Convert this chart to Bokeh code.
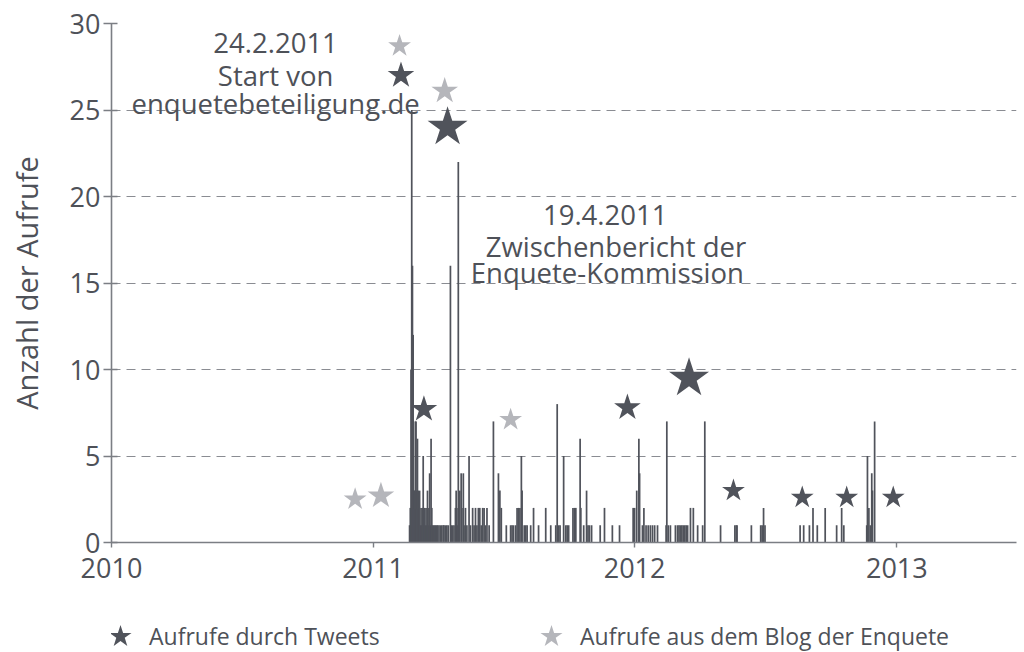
import datetime as dt
from bokeh.plotting import figure
from bokeh.layouts import column
from bokeh.models import (Range1d, FixedTicker, Label, Legend, LegendItem,
                          ColumnDataSource)
from bokeh.embed import file_html
from bokeh.resources import INLINE

# ---------------- data ----------------
bar_dates = [
    "2011-02-21", "2011-02-22", "2011-02-23", "2011-02-24", "2011-02-25", "2011-02-26",
    "2011-02-27", "2011-02-28", "2011-03-01", "2011-03-02", "2011-03-03", "2011-03-04",
    "2011-03-05", "2011-03-06", "2011-03-07", "2011-03-08", "2011-03-09", "2011-03-10",
    "2011-03-11", "2011-03-12", "2011-03-13", "2011-03-14", "2011-03-15", "2011-03-16",
    "2011-03-17", "2011-03-18", "2011-03-19", "2011-03-20", "2011-03-21", "2011-03-22",
    "2011-03-23", "2011-03-24", "2011-03-25", "2011-03-26", "2011-03-28", "2011-03-29",
    "2011-03-31", "2011-04-01", "2011-04-03", "2011-04-05", "2011-04-07", "2011-04-09",
    "2011-04-10", "2011-04-12", "2011-04-14", "2011-04-16", "2011-04-19", "2011-04-20",
    "2011-04-22", "2011-04-24", "2011-04-26", "2011-04-27", "2011-04-28", "2011-04-29",
    "2011-04-30", "2011-05-01", "2011-05-02", "2011-05-04", "2011-05-05", "2011-05-07",
    "2011-05-08", "2011-05-10", "2011-05-12", "2011-05-15", "2011-05-17", "2011-05-20",
    "2011-05-22", "2011-05-24", "2011-05-26", "2011-05-28", "2011-05-30", "2011-06-01",
    "2011-06-03", "2011-06-05", "2011-06-07", "2011-06-09", "2011-06-12", "2011-06-18",
    "2011-06-25", "2011-06-27", "2011-06-29", "2011-07-06", "2011-07-12", "2011-07-14",
    "2011-07-16", "2011-07-19", "2011-07-21", "2011-07-23", "2011-07-25", "2011-07-27",
    "2011-07-28", "2011-07-31", "2011-08-02", "2011-08-04", "2011-08-09", "2011-08-13",
    "2011-08-20", "2011-08-30", "2011-09-06", "2011-09-13", "2011-09-15", "2011-09-17",
    "2011-09-19", "2011-09-24", "2011-09-27", "2011-09-29", "2011-10-01", "2011-10-07",
    "2011-10-09", "2011-10-11", "2011-10-17", "2011-10-18", "2011-10-22", "2011-10-26",
    "2011-10-28", "2011-10-30", "2011-11-02", "2011-11-14", "2011-11-20", "2011-12-01",
    "2011-12-11", "2011-12-30", "2012-01-01", "2012-01-04", "2012-01-07", "2012-01-08",
    "2012-01-12", "2012-01-14", "2012-01-17", "2012-01-20", "2012-01-23", "2012-01-26",
    "2012-01-29", "2012-02-02", "2012-02-14", "2012-02-15", "2012-02-17", "2012-02-20",
    "2012-02-27", "2012-03-01", "2012-03-03", "2012-03-05", "2012-03-07", "2012-03-09",
    "2012-03-11", "2012-03-13", "2012-03-15", "2012-03-19", "2012-03-23", "2012-03-29",
    "2012-04-05", "2012-04-08", "2012-04-30", "2012-05-20", "2012-05-22", "2012-05-23",
    "2012-06-12", "2012-06-25", "2012-06-27", "2012-06-29", "2012-07-01", "2012-08-19",
    "2012-08-24", "2012-09-01", "2012-09-06", "2012-09-12", "2012-09-23", "2012-10-09",
    "2012-10-16", "2012-10-19", "2012-11-20", "2012-11-21", "2012-11-23", "2012-11-25",
    "2012-11-27", "2012-11-28", "2012-12-01",
]
bar_counts = [
    1, 2, 10, 25, 16, 12,
    3, 3, 7, 7, 3, 6,
    3, 2, 3, 1, 2, 1,
    2, 5, 1, 2, 1, 2,
    1, 3, 1, 2, 4, 1,
    6, 2, 1, 1, 1, 1,
    1, 1, 1, 1, 1, 1,
    1, 1, 1, 1, 16, 1,
    1, 1, 2, 3, 2, 1,
    22, 2, 3, 4, 2, 4,
    1, 2, 1, 5, 1, 2,
    1, 2, 1, 2, 2, 1,
    2, 2, 1, 2, 1, 7,
    4, 3, 2, 1, 1, 1,
    1, 1, 2, 2, 2, 5,
    3, 1, 1, 1, 1, 2,
    1, 2, 1, 1, 8, 1,
    1, 5, 1, 1, 1, 2,
    2, 2, 6, 2, 1, 3,
    1, 1, 1, 1, 2, 1,
    1, 2, 2, 3, 6, 4,
    1, 2, 1, 1, 1, 1,
    1, 1, 1, 7, 1, 1,
    1, 1, 1, 1, 1, 1,
    1, 1, 1, 2, 2, 1,
    1, 7, 1, 1, 1, 1,
    1, 1, 1, 2, 1, 1,
    1, 1, 2, 1, 2, 1,
    2, 1, 1, 5, 2, 1,
    4, 3, 7,
]

tweet_dates = ["2011-02-09", "2011-04-15", "2011-03-13", "2011-12-22", "2012-03-17",
               "2012-05-18", "2012-08-22", "2012-10-23", "2012-12-27"]
tweet_levels = [27.0, 24.0, 7.7, 7.8, 9.5, 3.0, 2.6, 2.6, 2.6]
tweet_class = ["M", "L", "M", "M", "L", "S", "S", "S", "S"]

blog_dates = ["2011-02-07", "2011-04-11", "2010-12-07", "2011-01-12", "2011-07-12"]
blog_levels = [28.7, 26.1, 2.5, 2.7, 7.1]
blog_class = ["S", "M", "S", "M", "S"]

year_ticks = ["2010-01-01", "2011-01-01", "2012-01-01", "2013-01-01"]
year_labels = ["2010", "2011", "2012", "2013"]
y_ticks = [0, 5, 10, 15, 20, 25, 30]

ann1_lines = ["24.2.2011", "Start von", "enquetebeteiligung.de"]
ann2_lines = ["19.4.2011", "Zwischenbericht der", "Enquete-Kommission"]
y_title = "Anzahl der Aufrufe"
legend_labels = ["Aufrufe durch Tweets", "Aufrufe aus dem Blog der Enquete"]

# ---------------- helpers / styles ----------------
EPOCH = dt.datetime(1970, 1, 1)


def ms(s):
    return (dt.datetime.fromisoformat(s) - EPOCH).total_seconds() * 1000.0


DAY = 86400000.0
DARK = "#50535b"
LIGHT = "#b5b6bb"
TEXT = "#4e5158"
AXIS = "#7b7e84"
GRID = "#8a8c92"
FONT = "Open Sans"
STAR_SIZE = {"S": 24, "M": 28, "L": 42}

p = figure(width=1024, height=594, output_backend="svg", toolbar_location=None,
           x_range=Range1d(ms("2010-01-01"), ms("2013-06-17")),
           y_range=Range1d(0, 30),
           min_border_left=111, min_border_right=8, min_border_top=23,
           min_border_bottom=52)
p.outline_line_color = None
p.background_fill_color = "white"
p.border_fill_color = "white"

bars = ColumnDataSource(dict(x=[ms(d) for d in bar_dates], top=bar_counts))
p.vbar(x="x", top="top", bottom=0, width=2.4 * DAY, source=bars,
       fill_color=DARK, line_color=None)

tw = ColumnDataSource(dict(x=[ms(d) for d in tweet_dates], y=tweet_levels,
                           s=[STAR_SIZE[c] for c in tweet_class]))
bl = ColumnDataSource(dict(x=[ms(d) for d in blog_dates], y=blog_levels,
                           s=[STAR_SIZE[c] for c in blog_class]))
p.scatter(x="x", y="y", size="s", marker="star", source=tw,
          fill_color=DARK, line_color=None)
p.scatter(x="x", y="y", size="s", marker="star", source=bl,
          fill_color=LIGHT, line_color=None)

# axes
p.xaxis.ticker = FixedTicker(ticks=[ms(d) for d in year_ticks])
p.xaxis.major_label_overrides = {ms(d): lab for d, lab in zip(year_ticks, year_labels)}
p.yaxis.ticker = FixedTicker(ticks=y_ticks)
for ax in (p.xaxis[0], p.yaxis[0]):
    ax.axis_line_color = AXIS
    ax.axis_line_width = 1.6
    ax.major_tick_line_color = AXIS
    ax.major_tick_line_width = 1.4
    ax.minor_tick_line_color = None
    ax.major_label_text_color = TEXT
    ax.major_label_text_font = FONT
    ax.major_label_text_font_size = "27px"
p.xaxis.major_tick_in = 0
p.xaxis.major_tick_out = 5
p.xaxis.major_label_standoff = 10
p.yaxis.major_tick_in = 6
p.yaxis.major_tick_out = 8
p.yaxis.major_label_standoff = 3
p.yaxis.axis_label = y_title
p.yaxis.axis_label_text_font = FONT
p.yaxis.axis_label_text_font_size = "29px"
p.yaxis.axis_label_text_font_style = "normal"
p.yaxis.axis_label_text_color = TEXT
p.yaxis.axis_label_standoff = 21

p.xgrid.grid_line_color = None
p.ygrid.grid_line_color = GRID
p.ygrid.grid_line_dash = "9 6"
p.ygrid.grid_line_width = 1.2

# annotations
ann1_pos = [("2010-08-18", 28.85), ("2010-08-18", 27.0), ("2010-08-18", 25.35)]
ann2_pos = [("2011-11-21", 18.95), ("2011-12-06", 17.1), ("2011-11-24", 15.6)]
for lines, pos in ((ann1_lines, ann1_pos), (ann2_lines, ann2_pos)):
    for txt, (d, yv) in zip(lines, pos):
        p.add_layout(Label(x=ms(d), y=yv, text=txt, text_align="center",
                           text_baseline="middle", text_font=FONT,
                           text_font_size="27.5px", text_color=TEXT))

# ---------------- legend strip ----------------
lg = figure(width=1024, height=58, output_backend="svg", toolbar_location=None,
            x_range=Range1d(0, 1), y_range=Range1d(0, 1), min_border=0)
lg.axis.visible = False
lg.grid.visible = False
lg.outline_line_color = None
lg.background_fill_color = "white"
lg.border_fill_color = "white"
# key glyphs: one point each, placed outside the strip's visible range
key_tw = lg.scatter(x=[-5], y=[-5], marker="star", size=22, fill_color=DARK, line_color=None)
key_bl = lg.scatter(x=[-5], y=[-5], marker="star", size=22, fill_color=LIGHT, line_color=None)
legend = Legend(items=[LegendItem(label=legend_labels[0], renderers=[key_tw]),
                       LegendItem(label=legend_labels[1], renderers=[key_bl])],
                location=(-20, -13), orientation="horizontal",
                glyph_width=58, glyph_height=58, padding=0, margin=0, spacing=0,
                label_width=373, label_standoff=0,
                background_fill_alpha=0, border_line_color=None, border_line_alpha=0,
                label_text_font=FONT, label_text_font_size="23px",
                label_text_color=TEXT)
lg.add_layout(legend, "center")

open("out.html", "w").write(file_html(column(p, lg, spacing=0), INLINE))
